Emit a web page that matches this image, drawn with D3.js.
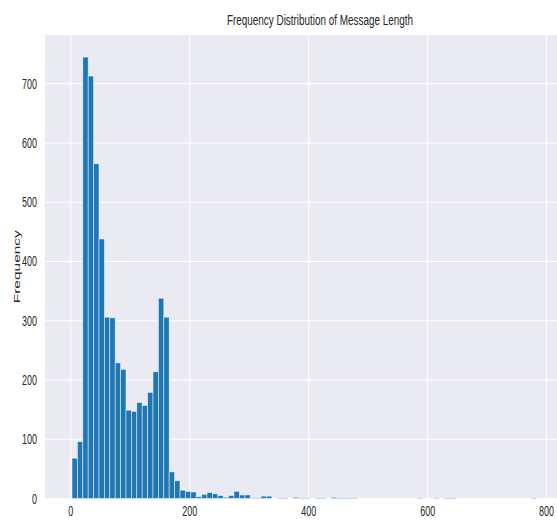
<!DOCTYPE html>
<html>
<head>
<meta charset="utf-8">
<script src="https://cdn.jsdelivr.net/npm/d3@7"></script>
<style>
  body { margin: 0; background: #fff; }
  text { font-family: "Liberation Sans", Arial, sans-serif; fill: #262626; }
</style>
</head>
<body>
<div id="graph"></div>
<script>
// histogram of message lengths, 100 bins from 2 to 910
var binStart = 2, binEnd = 910, binCount = 100;
var counts = [
  68, 96, 745, 713, 565, 438, 306, 305, 229, 218,
  149, 147, 162, 157, 179, 214, 338, 306, 45, 30,
  14, 12, 11, 3, 7, 10, 8, 5, 2, 5,
  12, 6, 6, 1, 1, 4, 4, 0, 1, 1,
  0, 2, 1, 1, 0, 1, 1, 0, 2, 1,
  1, 1, 1, 0, 0, 0, 0, 0, 0, 0,
  0, 0, 0, 0, 1, 0, 0, 1, 0, 1,
  1, 0, 0, 0, 0, 0, 0, 0, 0, 0,
  0, 0, 0, 0, 0, 1, 0, 0, 0, 0,
  0, 0, 0, 0, 0, 0, 0, 0, 0, 1
];
var xTicks = [0, 200, 400, 600, 800];
var yTicks = [0, 100, 200, 300, 400, 500, 600, 700];
var title = "Frequency Distribution of Message Length";
var yLabel = "Frequency";

var width = 557, height = 520;
var plot = {left: 45, right: 639, top: 35, bottom: 498.5};
var squeeze = 0.64; // text in the picture is narrowed horizontally

var binW = (binEnd - binStart) / binCount;
var bins = counts.map(function(c, i) {
  return {x0: binStart + i * binW, x1: binStart + (i + 1) * binW, n: c};
});

var pad = 0.05 * (binEnd - binStart);
var xScale = d3.scaleLinear().domain([binStart - pad, binEnd + pad]).range([plot.left, plot.right]);
var yScale = d3.scaleLinear().domain([0, d3.max(counts) * 1.05]).range([plot.bottom, plot.top]);

var svg = d3.select("#graph").append("svg")
  .attr("width", width)
  .attr("height", height);

svg.append("rect")
  .attr("x", plot.left).attr("y", plot.top)
  .attr("width", plot.right - plot.left)
  .attr("height", plot.bottom - plot.top)
  .attr("fill", "#eaeaf2");

// grid
svg.append("g").selectAll("line.gx").data(xTicks).enter().append("line")
  .attr("x1", function(d) { return xScale(d); })
  .attr("x2", function(d) { return xScale(d); })
  .attr("y1", plot.top).attr("y2", plot.bottom)
  .attr("stroke", "#fff").attr("stroke-width", 1);
svg.append("g").selectAll("line.gy").data(yTicks).enter().append("line")
  .attr("y1", function(d) { return yScale(d); })
  .attr("y2", function(d) { return yScale(d); })
  .attr("x1", plot.left).attr("x2", plot.right)
  .attr("stroke", "#fff").attr("stroke-width", 1);

// bars
svg.append("g").selectAll("rect.bar").data(bins.filter(function(d) { return d.n > 0; }))
  .enter().append("rect")
  .attr("class", "bar")
  .attr("x", function(d) { return xScale(d.x0); })
  .attr("width", function(d) { return xScale(d.x1) - xScale(d.x0); })
  .attr("y", function(d) { return yScale(d.n); })
  .attr("height", function(d) { return yScale(0) - yScale(d.n); })
  .attr("fill", "#1f77b4")
  .attr("stroke", "#ffffff")
  .attr("stroke-opacity", 0.6)
  .attr("stroke-width", 0.8);

// tick labels
svg.append("g").selectAll("text").data(xTicks).enter().append("text")
  .attr("transform", function(d) { return "translate(" + xScale(d) + ",516) scale(" + squeeze + ",1)"; })
  .attr("text-anchor", "middle")
  .style("font-size", "14px")
  .text(function(d) { return d; });

svg.append("g").selectAll("text").data(yTicks).enter().append("text")
  .attr("transform", function(d) { return "translate(37," + (yScale(d) + 5) + ") scale(" + squeeze + ",1)"; })
  .attr("text-anchor", "end")
  .style("font-size", "14px")
  .text(function(d) { return d; });

svg.append("text")
  .attr("transform", "translate(20," + ((plot.top + plot.bottom) / 2) + ") scale(" + squeeze + ",1) rotate(-90)")
  .attr("text-anchor", "middle")
  .style("font-size", "15.5px")
  .text(yLabel);

svg.append("text")
  .attr("transform", "translate(320,25) scale(" + squeeze + ",1)")
  .attr("text-anchor", "middle")
  .style("font-size", "15.5px")
  .text(title);
</script>
</body>
</html>
